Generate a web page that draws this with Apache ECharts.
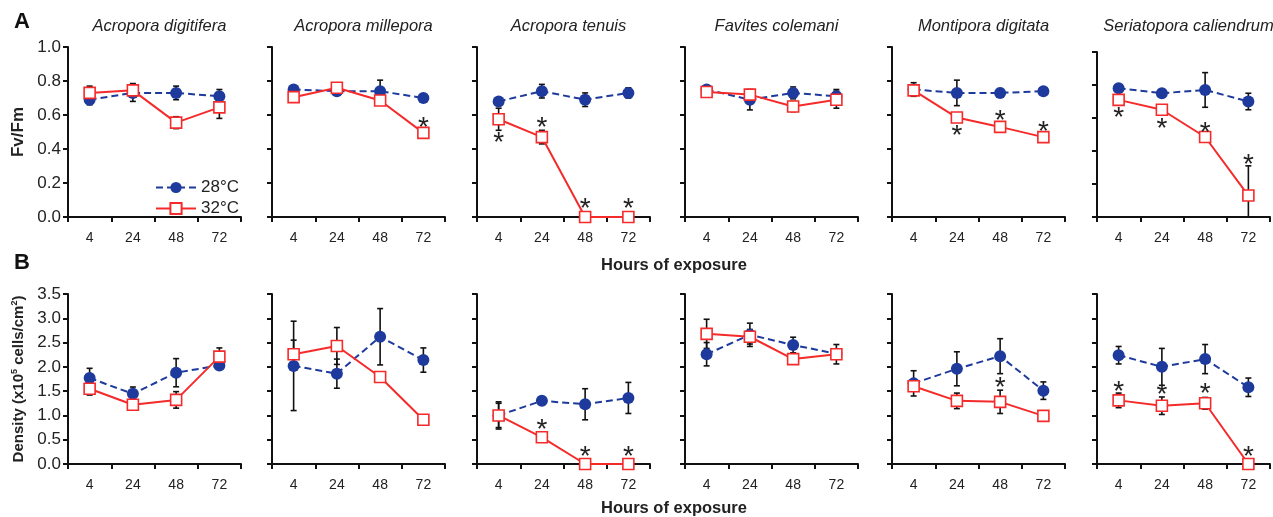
<!DOCTYPE html>
<html>
<head>
<meta charset="utf-8">
<script src="https://cdn.jsdelivr.net/npm/echarts@6/dist/echarts.min.js"></script>
<style>html,body{margin:0;padding:0;background:#fff}#c{width:1273px;height:517px}</style>
</head>
<body>
<div id="c"></div>
<script>
const hours = ['4', '24', '48', '72'];
const species = ['Acropora digitifera', 'Acropora millepora', 'Acropora tenuis', 'Favites colemani', 'Montipora digitata', 'Seriatopora caliendrum'];
const fvTicks = [0, 0.2, 0.4, 0.6, 0.8, 1.0];
const densTicks = [0, 0.5, 1.0, 1.5, 2.0, 2.5, 3.0, 3.5];

// Fv/Fm, 28°C
const fv28 = [
  [0.69, 0.73, 0.73, 0.71],
  [0.75, 0.74, 0.74, 0.70],
  [0.68, 0.74, 0.69, 0.73],
  [0.75, 0.69, 0.73, 0.71],
  [0.75, 0.73, 0.73, 0.74],
  [0.78, 0.75, 0.77, 0.70]
];
const fv28err = [
  [0.03, 0.05, 0.04, 0.04],
  [0.02, 0.02, 0.065, 0.015],
  [0.015, 0.04, 0.04, 0.03],
  [0.02, 0.06, 0.035, 0.04],
  [0.04, 0.075, 0.025, 0.01],
  [0.02, 0.02, 0.105, 0.05]
];
// Fv/Fm, 32°C
const fv32 = [
  [0.73, 0.745, 0.555, 0.645],
  [0.705, 0.76, 0.685, 0.495],
  [0.575, 0.47, 0, 0],
  [0.735, 0.72, 0.65, 0.69],
  [0.745, 0.585, 0.53, 0.47],
  [0.71, 0.65, 0.485, 0.13]
];
const fv32err = [
  [0.04, 0.04, 0.035, 0.065],
  [0.02, 0.02, 0.02, 0.01],
  [0.065, 0.04, 0, 0],
  [0.02, 0.02, 0.03, 0.05],
  [0.02, 0.02, 0.02, 0.01],
  [0.02, 0.02, 0.02, 0.18]
];
// significance asterisks [hour index, y]
const fvStars = [
  [],
  [[3, 0.56]],
  [[0, 0.47], [1, 0.56], [2, 0.08], [3, 0.08]],
  [],
  [[1, 0.51], [2, 0.60], [3, 0.533]],
  [[0, 0.636], [1, 0.566], [2, 0.545], [3, 0.347]]
];

// Density, 28°C
const dens28 = [
  [1.77, 1.445, 1.88, 2.03],
  [2.02, 1.86, 2.62, 2.14],
  [1.0, 1.30, 1.23, 1.36],
  [2.26, 2.66, 2.45, 2.27],
  [1.66, 1.96, 2.22, 1.51],
  [2.24, 2.0, 2.16, 1.58]
];
const dens28err = [
  [0.2, 0.14, 0.29, 0.07],
  [0.92, 0.3, 0.58, 0.25],
  [0.28, 0.05, 0.32, 0.32],
  [0.24, 0.24, 0.16, 0.1],
  [0.26, 0.35, 0.36, 0.18],
  [0.18, 0.38, 0.3, 0.19]
];
// Density, 32°C
const dens32 = [
  [1.55, 1.22, 1.32, 2.21],
  [2.26, 2.43, 1.79, 0.91],
  [1.0, 0.55, 0, 0],
  [2.68, 2.62, 2.16, 2.26],
  [1.6, 1.30, 1.28, 0.99],
  [1.31, 1.2, 1.25, 0]
];
const dens32err = [
  [0.13, 0.05, 0.17, 0.18],
  [0.29, 0.38, 0.08, 0.06],
  [0.25, 0.04, 0, 0],
  [0.3, 0.15, 0.06, 0.2],
  [0.05, 0.16, 0.24, 0.03],
  [0.15, 0.18, 0.12, 0]
];
const densStars = [
  [],
  [],
  [[1, 0.81], [2, 0.26], [3, 0.26]],
  [],
  [[2, 1.68]],
  [[0, 1.61], [1, 1.53], [2, 1.56], [3, 0.26]]
];

const BLUE = '#1d3a9c';
const RED = '#f52a2a';
const TXT = '#222';
const FONT = 'Liberation Sans, Arial, sans-serif';

const lefts = [68, 272, 477, 685, 892, 1097];
const W = 173;

const grids = [], xAxes = [], yAxes = [], series = [], titles = [];

function errRender(params, api) {
  const x = api.value(0), v = api.value(1), e = api.value(2);
  if (!e) return null;
  const lo = Math.max(0, v - e), hi = v + e;
  const pLo = api.coord([x, lo]);
  const pHi = api.coord([x, hi]);
  const st = { stroke: '#111', lineWidth: 1.6 };
  const ch = [
    { type: 'line', shape: { x1: pLo[0], y1: pLo[1], x2: pHi[0], y2: pHi[1] }, style: st },
    { type: 'line', shape: { x1: pHi[0] - 3, y1: pHi[1], x2: pHi[0] + 3, y2: pHi[1] }, style: st }
  ];
  if (v - e > 0) ch.push({ type: 'line', shape: { x1: pLo[0] - 3, y1: pLo[1], x2: pLo[0] + 3, y2: pLo[1] }, style: st });
  return { type: 'group', children: ch };
}

function starRender(params, api) {
  const p = api.coord([api.value(0), api.value(1)]);
  return {
    type: 'text',
    style: { text: '*', x: p[0], y: p[1] + 6, align: 'center', verticalAlign: 'middle', fill: '#222', fontSize: 28, fontFamily: FONT }
  };
}

function addPanel(row, col) {
  const g = row * 6 + col;
  let top, height;
  if (row === 0) {
    top = col === 5 ? 52 : 47;
    height = 217 - top;
  } else {
    top = 294; height = 170;
  }
  grids.push({ left: lefts[col], top: top, width: W, height: height, containLabel: false });
  xAxes.push({
    type: 'category', gridIndex: g, data: hours, boundaryGap: true,
    axisLine: { lineStyle: { color: '#111', width: 2 } },
    axisTick: { show: true, length: 5, lineStyle: { color: '#111', width: 2 } },
    axisLabel: { color: TXT, fontSize: 14, fontFamily: FONT, margin: 14 },
    splitLine: { show: false }
  });
  const isFv = row === 0;
  const ticks = isFv ? fvTicks : densTicks;
  const y = {
    type: 'value', gridIndex: g, min: ticks[0], max: ticks[ticks.length - 1],
    interval: ticks[1] - ticks[0],
    axisLine: { show: true, lineStyle: { color: '#111', width: 2 } },
    axisTick: { show: true, length: 5, lineStyle: { color: '#111', width: 2 } },
    axisLabel: { show: col === 0, color: TXT, fontSize: 17, fontFamily: FONT, margin: 7, formatter: v => v.toFixed(1) },
    splitLine: { show: false }
  };
  if (col === 0) {
    y.nameLocation = 'middle';
    y.nameRotate = 90;
    if (isFv) {
      y.name = 'Fv/Fm';
      y.nameGap = 41;
      y.nameTextStyle = { color: TXT, fontSize: 17, fontWeight: 'bold', fontFamily: FONT };
    } else {
      y.name = '{a|Density (x10}{s|5}{a| cells/cm}{s|2}{a|)}';
      y.nameGap = 41;
      y.nameTextStyle = {
        color: TXT, fontFamily: FONT,
        rich: {
          a: { fontSize: 15, fontWeight: 'bold', color: TXT, fontFamily: FONT },
          s: { fontSize: 9, fontWeight: 'bold', color: TXT, fontFamily: FONT, verticalAlign: 'top', padding: [0, 0, 8, 0] }
        }
      };
    }
  }
  yAxes.push(y);

  const v28 = isFv ? fv28[col] : dens28[col];
  const e28 = isFv ? fv28err[col] : dens28err[col];
  const v32 = isFv ? fv32[col] : dens32[col];
  const e32 = isFv ? fv32err[col] : dens32err[col];
  const stars = isFv ? fvStars[col] : densStars[col];

  series.push({
    type: 'custom', xAxisIndex: g, yAxisIndex: g, renderItem: errRender, z: 1, silent: true,
    data: v28.map((v, i) => [i, v, e28[i]])
  });
  series.push({
    type: 'custom', xAxisIndex: g, yAxisIndex: g, renderItem: errRender, z: 1, silent: true,
    data: v32.map((v, i) => [i, v, e32[i]])
  });
  series.push({
    name: '28°C', type: 'line', xAxisIndex: g, yAxisIndex: g, z: 3,
    data: v28, symbol: 'circle', symbolSize: 12, showSymbol: true,
    lineStyle: { color: BLUE, width: 2, type: [7, 4] },
    itemStyle: { color: BLUE }
  });
  series.push({
    name: '32°C', type: 'line', xAxisIndex: g, yAxisIndex: g, z: 4,
    data: v32, symbol: 'rect', symbolSize: 11, showSymbol: true,
    lineStyle: { color: RED, width: 2 },
    itemStyle: { color: '#fff', borderColor: RED, borderWidth: 1.6 }
  });
  if (stars.length) {
    series.push({
      type: 'custom', xAxisIndex: g, yAxisIndex: g, z: 5, silent: true,
      renderItem: starRender, data: stars, clip: false
    });
  }
  if (row === 0) {
    titles.push({
      text: species[col], left: lefts[col] + W / 2, top: 13, textAlign: 'center',
      textStyle: { fontSize: 16.5, fontStyle: 'italic', fontWeight: 'normal', color: TXT, fontFamily: FONT }
    });
  }
}

for (let r = 0; r < 2; r++) for (let c = 0; c < 6; c++) addPanel(r, c);

titles.push({ text: 'A', left: 9, top: 6, textStyle: { fontSize: 22, fontWeight: 'bold', color: '#111', fontFamily: FONT } });
titles.push({ text: 'B', left: 9, top: 247, textStyle: { fontSize: 22, fontWeight: 'bold', color: '#111', fontFamily: FONT } });
titles.push({ text: 'Hours of exposure', left: 669, top: 252, textAlign: 'center', textStyle: { fontSize: 16.5, fontWeight: 'bold', color: TXT, fontFamily: FONT } });
titles.push({ text: 'Hours of exposure', left: 669, top: 495, textAlign: 'center', textStyle: { fontSize: 16.5, fontWeight: 'bold', color: TXT, fontFamily: FONT } });

const chart = echarts.init(document.getElementById('c'), null, { renderer: 'canvas' });
chart.setOption({
  animation: false,
  backgroundColor: '#fff',
  title: titles,
  legend: {
    data: ['28°C', '32°C'], orient: 'vertical', left: 150, top: 174,
    itemWidth: 40, itemHeight: 14, itemGap: 4,
    textStyle: { fontSize: 17, color: TXT, fontFamily: FONT }
  },
  grid: grids,
  xAxis: xAxes,
  yAxis: yAxes,
  series: series
});
</script>
</body>
</html>
